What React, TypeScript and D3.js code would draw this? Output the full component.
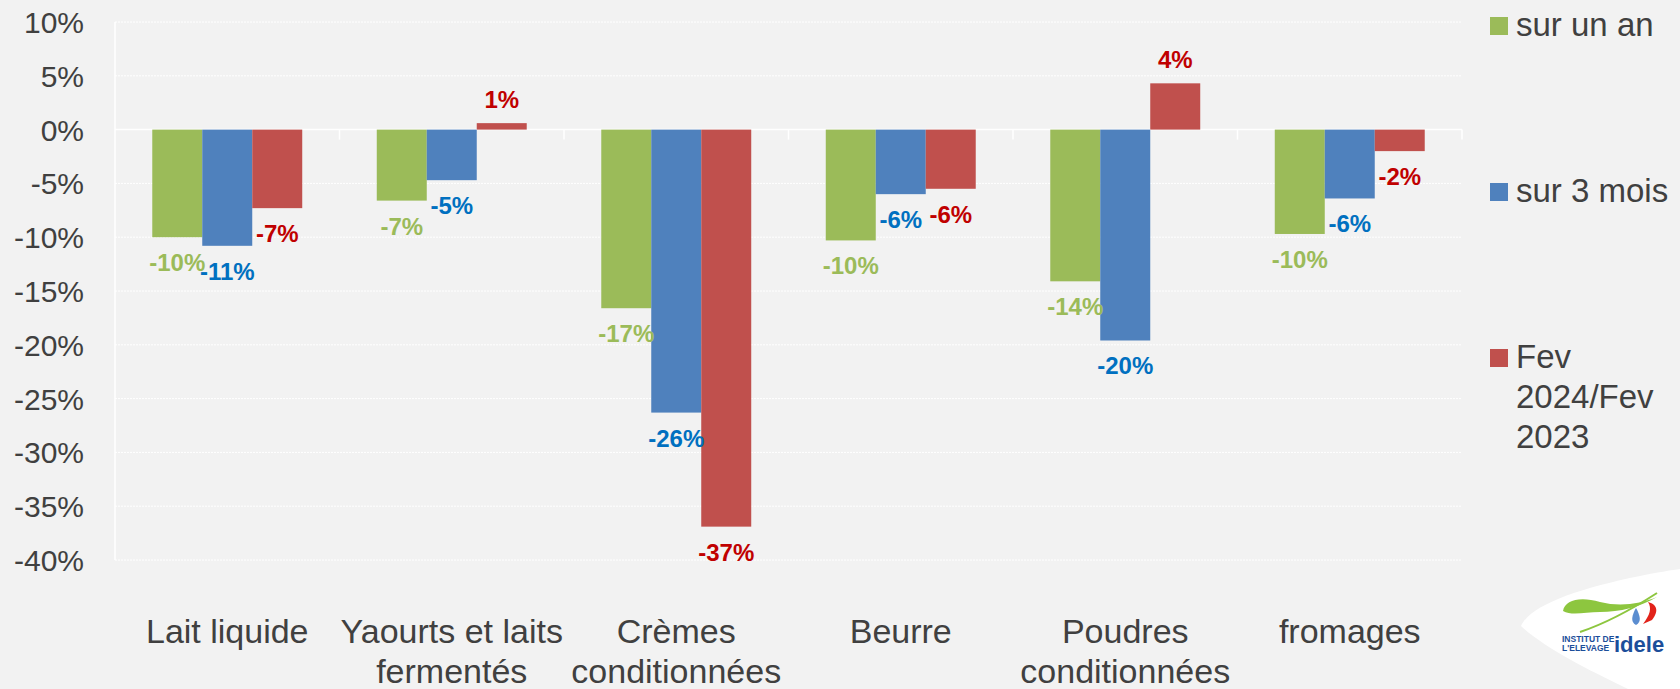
import React from "react";
import * as d3 from "d3";

const categories: string[][] = [
  ["Lait liquide"],
  ["Yaourts et laits", "fermentés"],
  ["Crèmes", "conditionnées"],
  ["Beurre"],
  ["Poudres", "conditionnées"],
  ["fromages"],
];
const seriesNames: string[][] = [["sur un an"], ["sur 3 mois"], ["Fev", "2024/Fev", "2023"]];
const surUnAn = [-10.0, -6.6, -16.6, -10.3, -14.1, -9.7];
const sur3Mois = [-10.8, -4.7, -26.3, -6.0, -19.6, -6.4];
const fevFev = [-7.3, 0.6, -36.9, -5.5, 4.3, -2.0];
const yTicks = [10, 5, 0, -5, -10, -15, -20, -25, -30, -35, -40];

const barColors = ["#9BBB59", "#4F81BD", "#C0504D"];
const labelColors = ["#9BBB59", "#0070C0", "#C00000"];

const W = 1680;
const H = 689;
const FONT = "'Liberation Sans', Arial, sans-serif";

function fmt(v: number) {
  const r = Math.sign(v) * Math.round(Math.abs(v));
  return `${r}%`;
}

export default function App() {
  const series = [surUnAn, sur3Mois, fevFev];
  const catKeys = categories.map((c) => c.join(" "));
  const y = d3.scaleLinear().domain([-40, 10]).range([560, 22]);
  const x0 = d3.scaleBand<string>().domain(catKeys).range([115, 1462]).padding(0);
  const bw = x0.bandwidth();
  const x1 = d3
    .scaleBand<number>()
    .domain([0, 1, 2])
    .range([bw * 0.166, bw * 0.834])
    .padding(0);
  const y0 = y(0);

  return (
    <div style={{ position: "fixed", left: 0, top: 0, width: W, height: H }}>
      <svg width={W} height={H} style={{ display: "block" }} fontFamily={FONT}>
        <rect x={0} y={0} width={W} height={H} fill="#F2F2F2" />
        {/* gridlines */}
        {yTicks.map((t) => (
          <line
            key={t}
            x1={115}
            x2={1462}
            y1={y(t)}
            y2={y(t)}
            stroke="#FFFFFF"
            strokeWidth={t === 0 ? 1.5 : 1}
            strokeDasharray={t === 0 ? undefined : "2,1"}
          />
        ))}
        <line x1={115} x2={115} y1={y(10)} y2={y(-40)} stroke="#FFFFFF" strokeWidth={1.5} />
        {/* category ticks on zero line */}
        {catKeys.map((c, i) => (
          <line
            key={"tk" + i}
            x1={(x0(c) as number) + bw}
            x2={(x0(c) as number) + bw}
            y1={y0}
            y2={y0 + 10}
            stroke="#FFFFFF"
            strokeWidth={1.5}
          />
        ))}
        {/* y tick labels */}
        {yTicks.map((t) => (
          <text key={"yl" + t} x={84} y={y(t) + 11} textAnchor="end" fontSize={30} fill="#404040">
            {`${t}%`}
          </text>
        ))}
        {/* bars */}
        {series.map((vals, s) =>
          vals.map((v, i) => {
            const bx = (x0(catKeys[i]) as number) + (x1(s) as number);
            return (
              <rect
                key={`b${s}-${i}`}
                x={bx}
                y={Math.min(y(v), y0)}
                width={x1.bandwidth()}
                height={Math.abs(y(v) - y0)}
                fill={barColors[s]}
              />
            );
          })
        )}
        {/* data labels */}
        {series.map((vals, s) =>
          vals.map((v, i) => {
            const cx = (x0(catKeys[i]) as number) + (x1(s) as number) + x1.bandwidth() / 2;
            const ly = v < 0 ? y(v) + 34 : y(v) - 15;
            return (
              <text
                key={`l${s}-${i}`}
                x={cx}
                y={ly}
                textAnchor="middle"
                fontSize={24}
                fontWeight="bold"
                fill={labelColors[s]}
              >
                {fmt(v)}
              </text>
            );
          })
        )}
        {/* x labels */}
        {categories.map((lines, i) => {
          const cx = (x0(catKeys[i]) as number) + bw / 2;
          return (
            <text key={"xl" + i} textAnchor="middle" fontSize={34} fill="#404040">
              {lines.map((ln, k) => (
                <tspan key={k} x={cx} y={643 + k * 40}>
                  {ln}
                </tspan>
              ))}
            </text>
          );
        })}
        {/* legend */}
        {seriesNames.map((lines, s) => {
          const top = [17, 183, 349][s];
          return (
            <g key={"lg" + s}>
              <rect x={1490} y={top} width={18} height={18} fill={barColors[s]} />
              <text fontSize={33} fill="#404040">
                {lines.map((ln, k) => (
                  <tspan key={k} x={1516} y={top + 19 + k * 40}>
                    {ln}
                  </tspan>
                ))}
              </text>
            </g>
          );
        })}
        {/* logo */}
        <g>
          <path
            d="M1521,626 C1530,605 1580,588 1640,576 C1660,572 1672,570 1680,569 L1680,689 L1628,689 C1585,668 1545,648 1521,626 Z"
            fill="#FFFFFF"
          />
          <path
            d="M1563,611 C1565,600 1580,596 1600,602 C1620,607 1640,604 1657,597 C1640,607 1620,612 1600,612 C1585,612 1572,616 1563,611 Z"
            fill="#8DC63F"
          />
          <path d="M1580,632 C1610,622 1640,604 1657,593" stroke="#8DC63F" strokeWidth={2} fill="none" />
          <path d="M1636,608 C1632,615 1630,622 1636,625 C1642,622 1640,615 1636,608 Z" fill="#5B8DD0" />
          <path d="M1643,624 C1650,615 1652,608 1648,602 C1656,604 1660,610 1652,620 Z" fill="#E2231A" />
          <text x={1562} y={642} fontSize={8.5} fontWeight="bold" fill="#1C4E9A">
            INSTITUT DE
          </text>
          <text x={1562} y={651} fontSize={8.5} fontWeight="bold" fill="#1C4E9A">
            L'ELEVAGE
          </text>
          <text x={1614} y={652} fontSize={22} fontWeight="bold" fill="#1C4E9A">
            idele
          </text>
        </g>
      </svg>
    </div>
  );
}
